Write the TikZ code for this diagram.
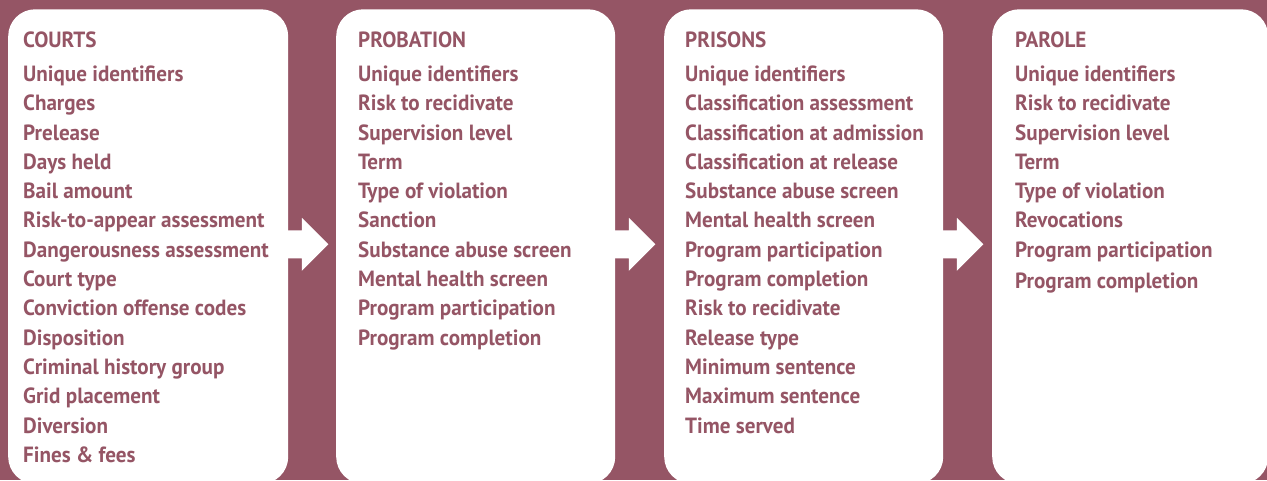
\documentclass[tikz,border=0pt]{standalone}
\usepackage{fontspec}
\setmainfont{PT Sans}[FakeStretch=0.96]
\usetikzlibrary{calc}
\definecolor{wine}{RGB}{149,85,101}
\begin{document}
\begin{tikzpicture}[x=1pt,y=1pt,
  panel/.style={fill=white, rounded corners=27pt, draw=none, inner sep=0pt,
    minimum height=474.5pt, anchor=south west},
  label/.style={anchor=base west, inner sep=0pt, text=wine,
    font=\fontsize{22}{22}\selectfont\bfseries},
  flowarrow/.pic={\fill[white] (-1,14) -- (13.5,14) -- (13.5,26.5) -- (40,0)
    -- (13.5,-26.5) -- (13.5,-14) -- (-1,-14) -- cycle;}
]
% background and page size
\fill[wine] (0,0) rectangle (1267,480);
\useasboundingbox (0,0) rectangle (1267,480);

\begin{scope}
\clip (0,0) rectangle (1267,480);
% the four stage panels
\node[panel, minimum width=280pt] (courts) at (8,-4) {};
\node[panel, minimum width=279pt] (probation) at (336,-4) {};
\node[panel, minimum width=279pt] (prisons) at (664,-4) {};
\node[panel, minimum width=276pt] (parole) at (992,-4) {};

% block arrows between stages
\path ($(courts.east)+(0,2.25)$) pic {flowarrow};
\path ($(probation.east)+(0,2.25)$) pic {flowarrow};
\path ($(prisons.east)+(0,2.25)$) pic {flowarrow};

% headings
\node[label] (courts-h) at (23,432.5) {COURTS};
\node[label] (probation-h) at (358,432.5) {PROBATION};
\node[label] (prisons-h) at (685,432.5) {PRISONS};
\node[label] (parole-h) at (1015,432.5) {PAROLE};

% data items
\foreach \t [count=\i from 0] in {Unique identifiers, Charges, Prelease,
  Days held, Bail amount, Risk-to-appear assessment, Dangerousness assessment,
  Court type, Conviction offense codes, Disposition, Criminal history group,
  Grid placement, Diversion, Fines \& fees}
  \node[label] (courts-\i) at (23,398.5-29.3*\i) {\t};

\foreach \t [count=\i from 0] in {Unique identifiers, Risk to recidivate,
  Supervision level, Term, Type of violation, Sanction, Substance abuse screen,
  Mental health screen, Program participation, Program completion}
  \node[label] (probation-\i) at (358,398.5-29.3*\i) {\t};

\foreach \t [count=\i from 0] in {Unique identifiers, Classification assessment,
  Classification at admission, Classification at release, Substance abuse screen,
  Mental health screen, Program participation, Program completion,
  Risk to recidivate, Release type, Minimum sentence, Maximum sentence,
  Time served}
  \node[label] (prisons-\i) at (685,398.5-29.3*\i) {\t};

\foreach \t [count=\i from 0] in {Unique identifiers, Risk to recidivate,
  Supervision level, Term, Type of violation, Revocations,
  Program participation}
  \node[label] (parole-\i) at (1015,398.5-29.3*\i) {\t};
\node[label] (parole-7) at (1015,192) {Program completion};
\end{scope}
\end{tikzpicture}
\end{document}
